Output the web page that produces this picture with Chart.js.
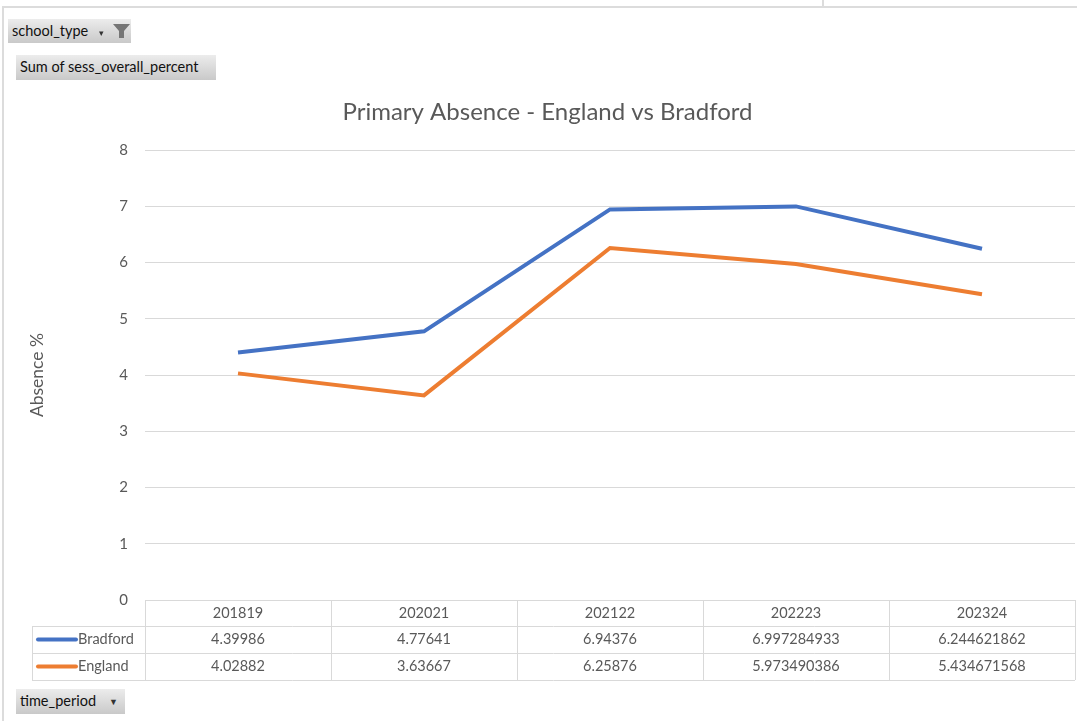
<!DOCTYPE html>
<html>
<head>
<meta charset="utf-8">
<script src="https://cdn.jsdelivr.net/npm/chart.js@4"></script>
<style>
  body { margin: 0; background: #fff; font-family: Lato, "Liberation Sans", sans-serif; }
  #wrap { position: relative; width: 1077px; height: 721px; overflow: hidden; }
  #chart { position: absolute; left: 0; top: 0; }
  .frame-left { position: absolute; left: 2px; top: 6px; width: 2px; height: 715px; background: #dcdcdc; }
  .frame-top { position: absolute; left: 2px; top: 6px; width: 1075px; height: 2px; background: #dcdcdc; }
  .frame-notch { position: absolute; left: 822px; top: 0; width: 2px; height: 7px; background: #dcdcdc; }
  .btn { position: absolute; background: linear-gradient(#ececec, #c9c9c9); font-size: 14.5px; color: #111;
         line-height: 24px; padding-left: 4px; box-sizing: border-box; }
  .arrow { position: absolute; font-size: 9px; color: #333; }
</style>
</head>
<body>
<div id="wrap">
  <div class="frame-left"></div>
  <div class="frame-top"></div>
  <div class="frame-notch"></div>
  <canvas id="chart" width="1077" height="721"></canvas>
  <div class="btn" style="left:8px;top:19px;width:123px;height:24px;">school_type
    <span class="arrow" style="left:91px;top:2px;">&#9662;</span>
    <svg style="position:absolute;left:104px;top:4px" width="19" height="16" viewBox="0 0 19 16">
      <path d="M1 1 H18 L12 8 V15 H7 V8 Z" fill="#767676"/>
    </svg>
  </div>
  <div class="btn" style="left:16px;top:55px;width:200px;height:25px;">Sum of sess_overall_percent</div>
  <div class="btn" style="left:16px;top:689px;width:109px;height:25px;">time_period
    <span class="arrow" style="left:93px;top:1px;">&#9660;</span>
  </div>
</div>
<script>
const categories = ['201819', '202021', '202122', '202223', '202324'];
const bradford = [4.39986, 4.77641, 6.94376, 6.997284933, 6.244621862];
const england = [4.02882, 3.63667, 6.25876, 5.973490386, 5.434671568];
const yTicks = [0, 1, 2, 3, 4, 5, 6, 7, 8];

const seriesNames = ['Bradford', 'England'];
const seriesColors = ['#4472C4', '#ED7D31'];
const textColor = '#595959';
const lineColor = '#d9d9d9';
const fontFamily = 'Lato, "Liberation Sans", sans-serif';

// data table under the plot, like Excel's chart data table
const dataTable = {
    id: 'dataTable',
    afterDraw(chart) {
        const ctx = chart.ctx;
        const x = chart.scales.x;
        const area = chart.chartArea;
        const step = x.getPixelForValue(1) - x.getPixelForValue(0);
        const left = x.getPixelForValue(0) - step / 2;
        const right = x.getPixelForValue(categories.length - 1) + step / 2;
        const rows = [area.bottom, area.bottom + 26, area.bottom + 53, area.bottom + 80];
        const legendLeft = 32;

        ctx.save();
        ctx.strokeStyle = lineColor;
        ctx.lineWidth = 1;
        ctx.beginPath();
        ctx.moveTo(left, rows[0] + 0.5); ctx.lineTo(right, rows[0] + 0.5);
        for (let r = 1; r < rows.length; r++) {
            ctx.moveTo(legendLeft, rows[r] + 0.5); ctx.lineTo(right, rows[r] + 0.5);
        }
        for (let i = 0; i <= categories.length; i++) {
            const px = Math.round(left + i * step) + 0.5;
            ctx.moveTo(px, rows[0]); ctx.lineTo(px, rows[3]);
        }
        ctx.moveTo(legendLeft + 0.5, rows[1]); ctx.lineTo(legendLeft + 0.5, rows[3]);
        ctx.stroke();

        ctx.font = '14.5px ' + fontFamily;
        ctx.fillStyle = textColor;
        ctx.textAlign = 'center';
        ctx.textBaseline = 'middle';
        categories.forEach((c, i) => {
            ctx.fillText(c, x.getPixelForValue(i), (rows[0] + rows[1]) / 2);
        });
        [bradford, england].forEach((vals, r) => {
            const cy = (rows[r + 1] + rows[r + 2]) / 2;
            vals.forEach((v, i) => {
                ctx.fillText(String(v), x.getPixelForValue(i), cy);
            });
            ctx.strokeStyle = seriesColors[r];
            ctx.lineWidth = 4;
            ctx.lineCap = 'round';
            ctx.beginPath();
            ctx.moveTo(38, cy); ctx.lineTo(76, cy);
            ctx.stroke();
            ctx.textAlign = 'left';
            ctx.fillText(seriesNames[r], 78, cy);
            ctx.textAlign = 'center';
        });
        ctx.restore();
    }
};

new Chart(document.getElementById('chart'), {
    type: 'line',
    data: {
        labels: categories,
        datasets: [
            { label: seriesNames[0], data: bradford, borderColor: seriesColors[0], borderWidth: 4, pointRadius: 0, tension: 0 },
            { label: seriesNames[1], data: england, borderColor: seriesColors[1], borderWidth: 4, pointRadius: 0, tension: 0 },
        ],
    },
    options: {
        responsive: false,
        animation: false,
        layout: { padding: { top: 90, right: 2, bottom: 121, left: 20 } },
        plugins: {
            legend: { display: false },
            tooltip: { enabled: false },
            title: {
                display: true,
                text: 'Primary Absence - England vs Bradford',
                color: textColor,
                font: { size: 24, weight: 'normal', family: fontFamily },
                padding: { top: 8, bottom: 23.2 },
            },
        },
        scales: {
            x: { type: 'category', offset: true, display: false },
            y: {
                min: 0,
                max: 8,
                afterBuildTicks: s => { s.ticks = yTicks.map(v => ({ value: v })); },
                afterFit: s => { s.width = 125; },
                border: { display: false },
                grid: { color: lineColor, drawTicks: false },
                ticks: { color: textColor, padding: 17, font: { size: 15, family: fontFamily } },
                title: {
                    display: true,
                    text: 'Absence %',
                    color: textColor,
                    padding: { top: 7, bottom: 0 },
                    font: { size: 17.5, family: fontFamily },
                },
            },
        },
    },
    plugins: [dataTable],
});
</script>
</body>
</html>
